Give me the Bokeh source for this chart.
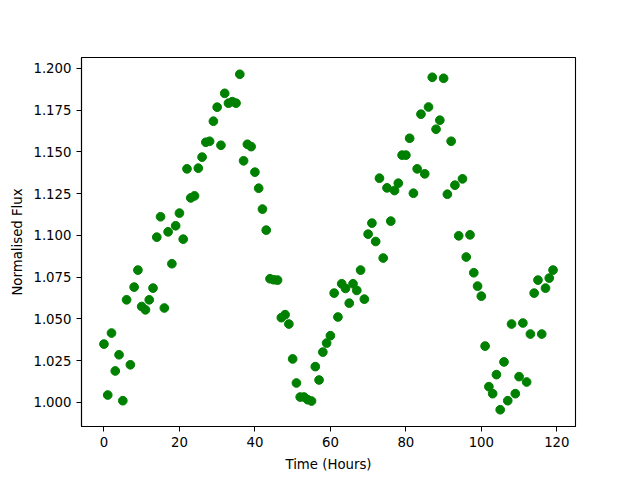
from bokeh.plotting import figure
from bokeh.models import Range1d, FixedTicker, NumeralTickFormatter, ColumnDataSource
from bokeh.embed import file_html
from bokeh.resources import INLINE

hours = list(range(120))
flux = [
    1.0349, 1.0044, 1.0415, 1.0188, 1.0285, 1.0010, 1.0614, 1.0225, 1.0690, 1.0792,
    1.0574, 1.0554, 1.0614, 1.0684, 1.0989, 1.1111, 1.0565, 1.1021, 1.0830, 1.1057,
    1.1133, 1.0977, 1.1398, 1.1224, 1.1236, 1.1402, 1.1468, 1.1557, 1.1563, 1.1683,
    1.1767, 1.1539, 1.1850, 1.1791, 1.1800, 1.1791, 1.1964, 1.1446, 1.1545, 1.1531,
    1.1378, 1.1282, 1.1157, 1.1031, 1.0740, 1.0734, 1.0732, 1.0507, 1.0525, 1.0469,
    1.0260, 1.0116, 1.0032, 1.0032, 1.0016, 1.0008, 1.0214, 1.0134, 1.0301, 1.0355,
    1.0399, 1.0654, 1.0511, 1.0710, 1.0682, 1.0594, 1.0710, 1.0670, 1.0792, 1.0618,
    1.1007, 1.1073, 1.0963, 1.1342, 1.0864, 1.1284, 1.1085, 1.1268, 1.1312, 1.1480,
    1.1480, 1.1581, 1.1252, 1.1398, 1.1725, 1.1368, 1.1768, 1.1946, 1.1635, 1.1689,
    1.1940, 1.1246, 1.1563, 1.1300, 1.0997, 1.1338, 1.0870, 1.1003, 1.0776, 1.0696,
    1.0636, 1.0337, 1.0094, 1.0052, 1.0166, 0.9956, 1.0242, 1.0010, 1.0469, 1.0052,
    1.0154, 1.0475, 1.0122, 1.0409, 1.0654, 1.0732, 1.0409, 1.0684, 1.0744, 1.0792,
]
x_ticks = [0, 20, 40, 60, 80, 100, 120]
y_ticks = [1.000, 1.025, 1.050, 1.075, 1.100, 1.125, 1.150, 1.175, 1.200]
x_label = "Time (Hours)"
y_label = "Normalised Flux"

xmin, xmax = min(hours), max(hours)
ymin, ymax = min(flux), max(flux)
xpad = 0.05 * (xmax - xmin)
ypad = 0.05 * (ymax - ymin)

p = figure(
    frame_width=494, frame_height=369,
    min_border_left=81, min_border_right=49, min_border_top=57, min_border_bottom=38,
    x_range=Range1d(xmin - xpad, xmax + xpad),
    y_range=Range1d(ymin - ypad, ymax + ypad),
    output_backend="svg", toolbar_location=None,
    background_fill_color="white", border_fill_color="white",
)

src = ColumnDataSource(dict(x=hours, y=flux))
p.scatter("x", "y", source=src, size=8.7, line_width=1, fill_color="#008000", line_color="#008000")

p.xgrid.visible = False
p.ygrid.visible = False
p.outline_line_color = "black"
p.outline_line_width = 1.1

p.xaxis.ticker = FixedTicker(ticks=x_ticks)
p.yaxis.ticker = FixedTicker(ticks=y_ticks)
p.yaxis.formatter = NumeralTickFormatter(format="0.000")
p.xaxis.axis_label = x_label
p.yaxis.axis_label = y_label

for ax in (p.xaxis, p.yaxis):
    ax.axis_line_color = "black"
    ax.axis_line_width = 1.1
    ax.major_tick_line_color = "black"
    ax.major_tick_in = 0
    ax.major_tick_out = 5
    ax.minor_tick_line_color = None
    ax.major_label_text_font = "DejaVu Sans"
    ax.major_label_text_font_size = "13.3px"
    ax.major_label_text_color = "black"
    ax.major_label_standoff = 5
    ax.axis_label_text_font = "DejaVu Sans"
    ax.axis_label_text_font_size = "13.3px"
    ax.axis_label_text_font_style = "normal"
    ax.axis_label_text_color = "black"
    ax.axis_label_standoff = 7
p.yaxis.axis_label_standoff = 5

open("out.html", "w").write(file_html(p, INLINE))
